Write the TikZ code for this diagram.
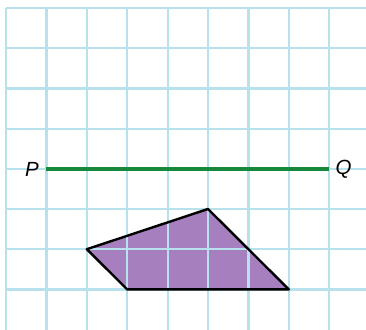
\documentclass[tikz,border=0pt]{standalone}
\usepackage{fontspec}
\setmainfont{Liberation Sans}
\definecolor{gridblue}{HTML}{B6E1ED}
\definecolor{linegreen}{HTML}{15883A}
\definecolor{shapepurple}{HTML}{A67FBE}
\tikzset{
  gridline/.style={draw=gridblue, line width=2.2pt},
  segline/.style={draw=linegreen, line width=4pt},
  shapeline/.style={draw=black, line width=2.4pt, line join=round},
  ptlabel/.style={font=\fontsize{20.5}{20.5}\selectfont\itshape, inner sep=0pt}
}
\begin{document}
\begin{tikzpicture}[x=1pt,y=-1pt]
\useasboundingbox (0,0) rectangle (366,329);
\fill[white] (0,0) rectangle (366,329);
% quadrilateral fill
\coordinate (A) at (86.8,249.2);
\coordinate (B) at (208,209);
\coordinate (C) at (288.8,289.4);
\coordinate (D) at (127.2,289.4);
\fill[shapepurple] (A) -- (B) -- (C) -- (D) -- cycle;
% grid
\foreach \k in {0,...,8} {
  \draw[gridline] ({6+40.4*\k},8) -- ({6+40.4*\k},330);
}
\foreach \k in {0,...,7} {
  \draw[gridline] (6,{8+40.2*\k}) -- (367,{8+40.2*\k});
}
% outline
\draw[shapeline] (A) -- (B) -- (C) -- (D) -- cycle;
% segment PQ
\coordinate (p) at (46.4,168.8);
\coordinate (q) at (329.2,168.8);
\draw[segline] (p) -- (q);
\node[ptlabel] (P) at (32,169) {P};
\node[ptlabel] (Q) at (343.5,169.5) {Q};
\end{tikzpicture}
\end{document}
